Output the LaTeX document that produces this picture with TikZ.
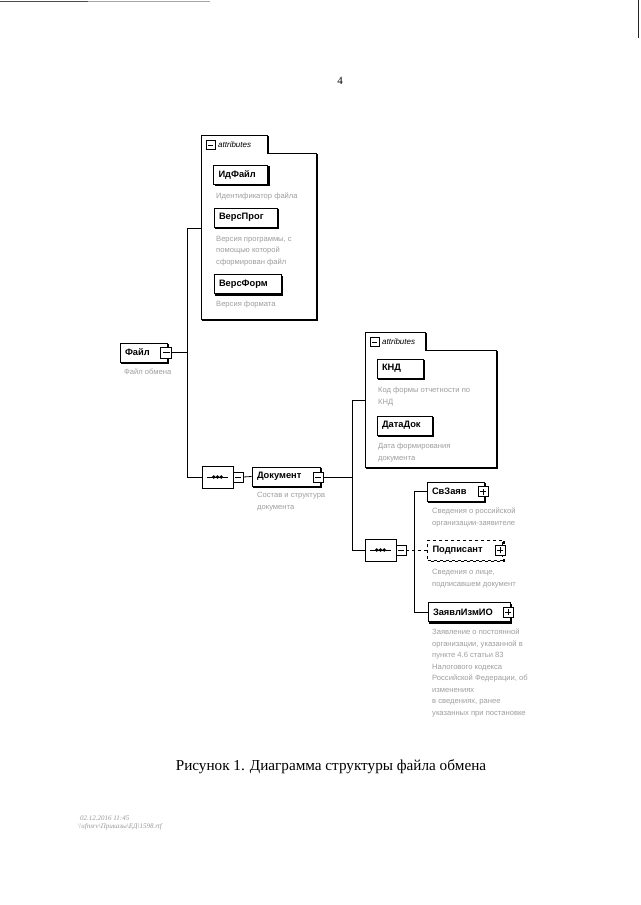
\documentclass[tikz,border=0pt]{standalone}
\usepackage{fontspec}
\setmainfont{Liberation Serif}
\setsansfont{Liberation Sans}
\usetikzlibrary{shapes.misc,calc}
\tikzset{
  conn/.style={line width=0.8pt},
  elem/.style={draw, fill=white, line width=0.8pt, inner ysep=0pt, inner xsep=5pt,
    minimum height=19pt, align=left, anchor=center,
    font=\sffamily\bfseries\fontsize{9.3}{12}\selectfont},
  optelem/.style={draw, dashed, fill=white, line width=0.8pt, inner ysep=0pt, inner xsep=5pt,
    minimum height=20pt, align=left, anchor=center,
    font=\sffamily\bfseries\fontsize{9.3}{12}\selectfont},
  shadowline/.style={line width=1.4pt},
  pmbox/.style={draw, fill=white, line width=0.7pt, minimum size=10pt, inner sep=0pt},
  minusbox/.style={pmbox, path picture={\draw[line width=0.7pt]
      ([xshift=2pt]path picture bounding box.west) -- ([xshift=-2pt]path picture bounding box.east);}},
  plusbox/.style={pmbox, path picture={\draw[line width=0.7pt]
      ([xshift=2pt]path picture bounding box.west) -- ([xshift=-2pt]path picture bounding box.east)
      ([yshift=2pt]path picture bounding box.south) -- ([yshift=-2pt]path picture bounding box.north);}},
  seqbox/.style={chamfered rectangle, chamfered rectangle xsep=6pt, draw, fill=white,
    line width=0.8pt, minimum width=31pt, minimum height=22pt, inner sep=0pt},
  desc/.style={anchor=north west, inner sep=0pt, align=left, text=black!38,
    font=\sffamily\fontsize{7.6}{11.5}\selectfont},
  attrtab/.style={anchor=west, inner sep=0pt, font=\sffamily\itshape\fontsize{8}{10}\selectfont},
  attrline/.style={line width=0.8pt},
  footer/.style={anchor=west, inner sep=0pt, text=black!40, font=\itshape\fontsize{7}{8}\selectfont},
}
\newcommand\elshadow[1]{%
  \draw[shadowline] ($(#1.north east)+(1.1,1.6)$) -- ($(#1.south east)+(1.1,1.1)$) -- ($(#1.south west)+(1.6,1.1)$);}
\begin{document}
\begin{tikzpicture}[x=1pt,y=-1pt]
\useasboundingbox[fill=white] (0,0) rectangle (640,905);

% scan artifacts at the edges
\draw[line width=1.2pt, black!70] (0,1.5) -- (88,1.5);
\draw[line width=1.2pt, black!35] (88,1.5) -- (210,1.5);
\draw[line width=1.5pt, black!85] (638.5,0) -- (638.5,38);

% page number
\node[font=\fontsize{11}{13}\selectfont] (pagenum) at (340,81) {4};

% ---------- attributes box 1
\draw[attrline] (201,135) -- (267,135) -- (267,153) -- (316,153) -- (316,319) -- (201,319) -- cycle;
\draw[line width=1.3pt] (268.3,136) -- (268.3,153);
\draw[line width=1.3pt] (317.3,154) -- (317.3,320.3) -- (202,320.3);
\node[minusbox, minimum size=9pt] (a1m) at (210.5,145) {};
\node[attrtab] (a1t) at (218,145) {attributes};

\node[elem, text width=44pt] (idf) at (240.5,174.5) {ИдФайл};
\elshadow{idf}
\node[desc] (didf) at (216,193) {Идентификатор файла};
\node[elem, text width=53pt] (vprog) at (245.5,217.5) {ВерсПрог};
\elshadow{vprog}
\node[desc] (dvprog) at (216,236) {Версия программы, с\\помощью которой\\сформирован файл};
\node[elem, text width=57pt] (vform) at (247.5,284) {ВерсФорм};
\elshadow{vform}
\node[desc] (dvform) at (216,301) {Версия формата};

% ---------- root element
\node[elem, text width=37pt] (file) at (143.5,352.5) {Файл};
\elshadow{file}
\node[minusbox, minimum size=11pt] (fileM) at (166,352.5) {};
\node[desc] (dfile) at (124,369) {Файл обмена};

\coordinate (a1in) at (201,228);
\coordinate (v1) at (187,228);
\draw[conn] (fileM.east) -- (fileM.east -| v1);

% ---------- sequence 1
\node[seqbox] (seq1) at (217.5,477) {};
\draw[line width=0.8pt] ([xshift=5pt]seq1.west) -- ([xshift=-5pt]seq1.east);
\fill ([xshift=-3.8pt]seq1.center) circle (1.9pt) (seq1.center) circle (1.9pt) ([xshift=3.8pt]seq1.center) circle (1.9pt);
\node[minusbox] (seq1M) at (238,477) {};
\draw[conn] (a1in) -- (v1) -- (v1 |- seq1.west) -- (seq1.west);

% ---------- Документ
\node[elem, text width=58pt] (doc) at (286,476.5) {Документ};
\elshadow{doc}
\node[minusbox] (docM) at (318,477) {};
\draw[conn] (seq1M.east) -- (doc.west);
\node[desc] (ddoc) at (257,492) {Состав и структура\\документа};

% ---------- attributes box 2
\draw[attrline] (365,332) -- (425,332) -- (425,350) -- (496,350) -- (496,467) -- (365,467) -- cycle;
\draw[line width=1.3pt] (426.3,333) -- (426.3,350);
\draw[line width=1.3pt] (497.3,351) -- (497.3,468.3) -- (366,468.3);
\node[minusbox, minimum size=9pt] (a2m) at (374.5,342) {};
\node[attrtab] (a2t) at (382,342) {attributes};

\node[elem, text width=36pt] (knd) at (400,368.5) {КНД};
\elshadow{knd}
\node[desc] (dknd) at (378,387) {Код формы отчетности по\\КНД};
\node[elem, text width=45pt] (datadoc) at (404.5,425.5) {ДатаДок};
\elshadow{datadoc}
\node[desc] (ddatadoc) at (378,443) {Дата формирования\\документа};

\coordinate (a2in) at (365,400);
\coordinate (v2) at (352,400);
\draw[conn] (docM.east) -- (docM.east -| v2);

% ---------- sequence 2
\node[seqbox] (seq2) at (380.5,550) {};
\draw[line width=0.8pt] ([xshift=5pt]seq2.west) -- ([xshift=-5pt]seq2.east);
\fill ([xshift=-3.8pt]seq2.center) circle (1.9pt) (seq2.center) circle (1.9pt) ([xshift=3.8pt]seq2.center) circle (1.9pt);
\node[minusbox] (seq2M) at (401,550) {};
\draw[conn] (a2in) -- (v2) -- (v2 |- seq2.west) -- (seq2.west);

% ---------- children
\node[elem, text width=47pt] (svz) at (455.5,491.5) {СвЗаяв};
\elshadow{svz}
\node[plusbox] (svzP) at (483,491.5) {};
\node[desc] (dsvz) at (432,508) {Сведения о российской\\организации-заявителе};

\node[optelem, text width=65pt] (podp) at (465,550) {Подписант};
\draw[shadowline, dashed] ($(podp.north east)+(1.1,1.6)$) -- ($(podp.south east)+(1.1,1.1)$) -- ($(podp.south west)+(1.6,1.1)$);
\node[plusbox] (podpP) at (500,550) {};
\node[desc] (dpodp) at (432,569) {Сведения о лице,\\подписавшем документ};

\node[elem, text width=72pt] (zav) at (469,612) {ЗаявлИзмИО};
\elshadow{zav}
\node[plusbox] (zavP) at (508,612) {};
\node[desc] (dzav) at (432,629) {Заявление о постоянной\\организации, указанной в\\пункте 4.6 статьи 83\\Налогового кодекса\\Российской Федерации, об\\изменениях\\в сведениях, ранее\\указанных при постановке};

\coordinate (v3) at (414,0);
\draw[conn] (svz.west) -- (svz.west -| v3) -- (v3 |- zav.west) -- (zav.west);
\draw[conn, dashed] (seq2M.east) -- (podp.west);

% ---------- caption
\node[font=\fontsize{15.2}{17}\selectfont] (caption) at (331,767) {Рисунок 1. Диаграмма структуры файла обмена};

% ---------- footer
\node[footer] (foot1) at (80,818) {02.12.2016 11:45};
\node[footer] (foot2) at (78,827) {\textbackslash\textbackslash sfnsrv\textbackslash Приказы\textbackslash ЕД\textbackslash 1598.rtf};
\end{tikzpicture}
\end{document}
